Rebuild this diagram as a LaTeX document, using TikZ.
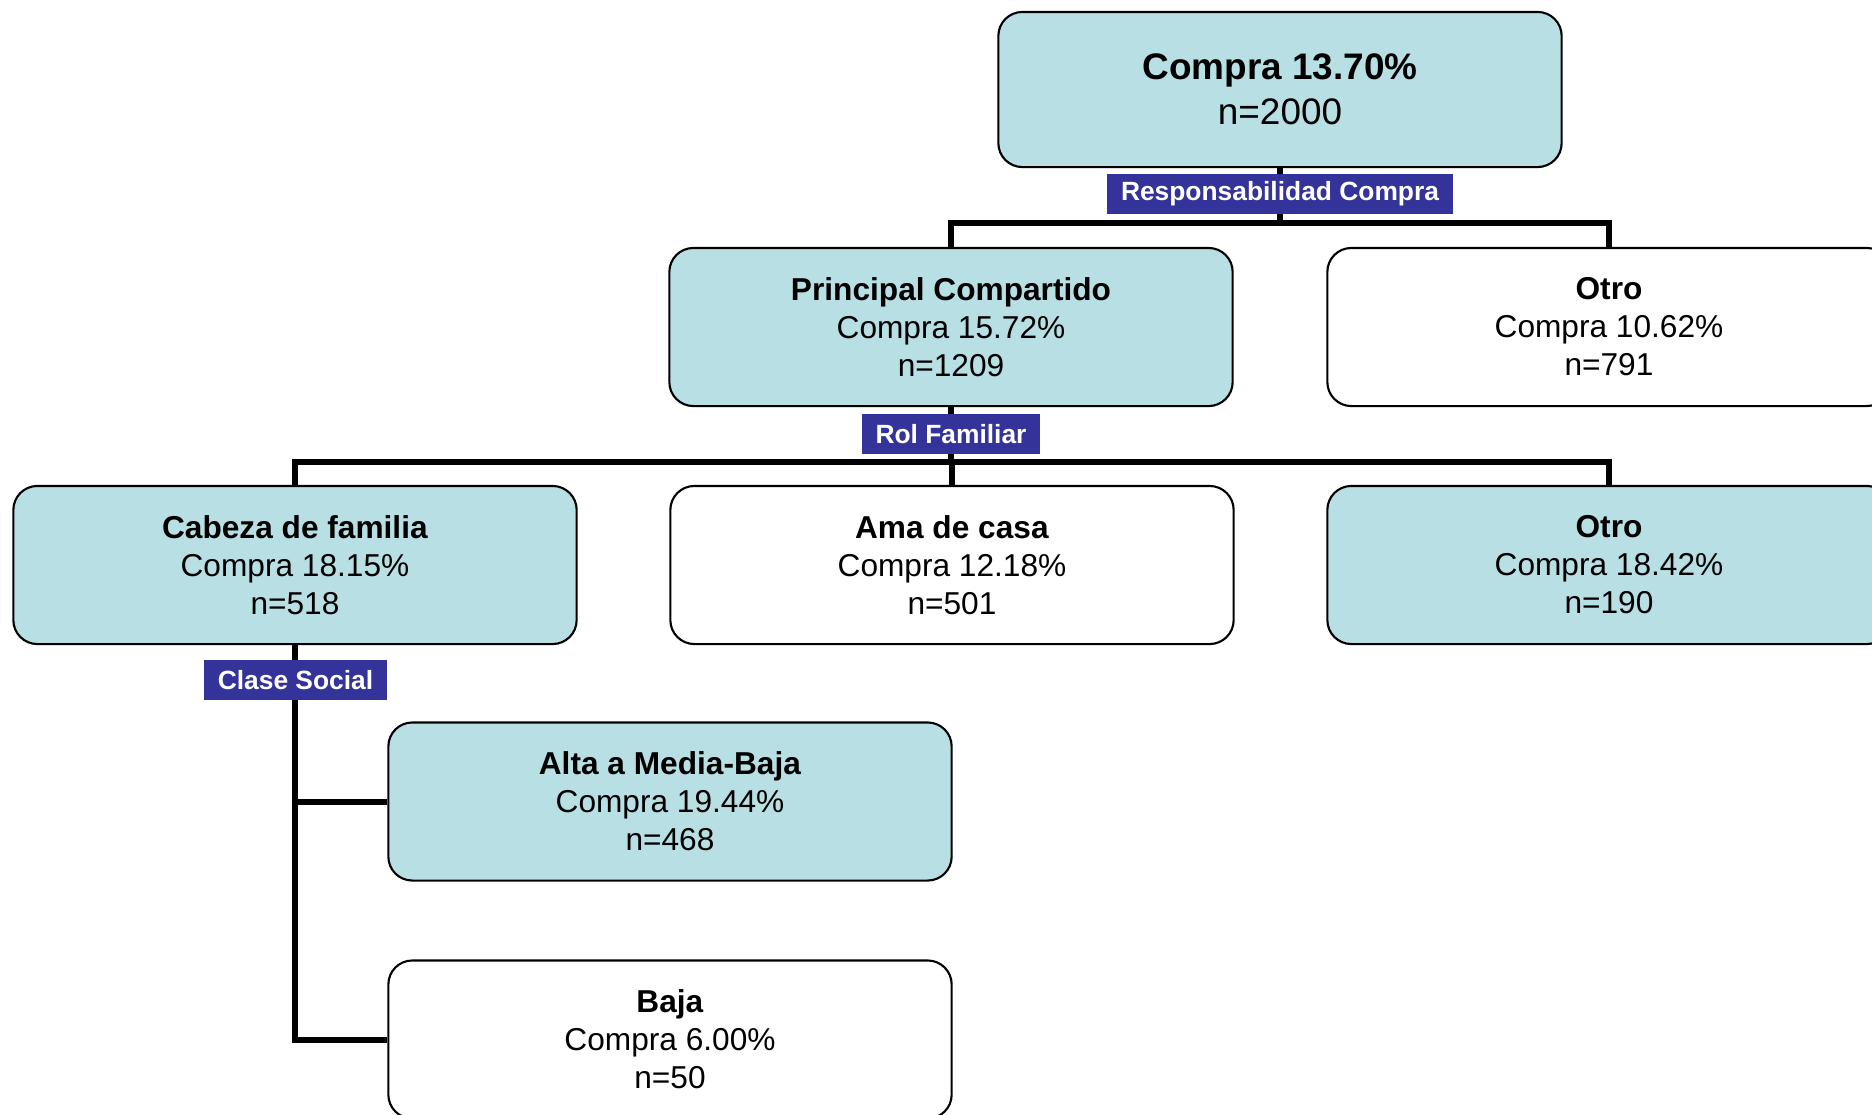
\documentclass[tikz,border=0pt]{standalone}
\usepackage{fontspec}
\setmainfont{Liberation Sans}
\usetikzlibrary{positioning}
\usetikzlibrary{calc}
\definecolor{boxfill}{HTML}{B8DFE3}
\definecolor{tagfill}{HTML}{333399}
\tikzstyle{treebox}=[rectangle,rounded corners=0.24cm,draw=black,line width=0.6pt,minimum width=5.63cm,minimum height=1.58cm,align=center,inner sep=0pt,font=\fontsize{9}{10.8}\selectfont]
\tikzstyle{rootbox}=[treebox,minimum height=1.55cm,font=\fontsize{10.5}{12.9}\selectfont]
\tikzstyle{tag}=[rectangle,fill=tagfill,text=white,inner xsep=0.14cm,inner ysep=0pt,minimum height=0.4cm,font=\fontsize{7.5}{9}\selectfont\bfseries]
\tikzstyle{branch}=[draw,line width=1.7pt]

\begin{document}
\begin{tikzpicture}[x=0.01cm,y=-0.01cm]

  \clip (0,0) rectangle (1872,1114);

  \node[rootbox,fill=boxfill] (root) at (1280,89.5) {\textbf{Compra 13.70\%}\\n=2000};

  \foreach \x/\y/\name/\fillc/\label in {
      951/327/pc/boxfill/{\textbf{Principal Compartido}\\Compra 15.72\%\\n=1209},
      1609/327/otroa/white/{\textbf{Otro}\\Compra 10.62\%\\n=791},
      295/565/cab/boxfill/{\textbf{Cabeza de familia}\\Compra 18.15\%\\n=518},
      952/565/ama/white/{\textbf{Ama de casa}\\Compra 12.18\%\\n=501},
      1609/565/otrob/boxfill/{\textbf{Otro}\\Compra 18.42\%\\n=190},
      670/801.5/alta/boxfill/{\textbf{Alta a Media-Baja}\\Compra 19.44\%\\n=468},
      670/1039.5/baja/white/{\textbf{Baja}\\Compra 6.00\%\\n=50}}
        \node[treebox,fill=\fillc] (\name) at (\x,\y) {\label};

  \foreach \dest in {pc,otroa}
        \draw[branch] (root.south) -- ++(0,55) -| (\dest.north);
  \foreach \dest in {cab,ama,otrob}
        \draw[branch] (pc.south) -- ++(0,55) -| (\dest.north);
  \foreach \dest in {alta,baja}
        \draw[branch] (cab.south) |- (\dest.west);

  \node[tag] (resp) at (1280,194) {Responsabilidad Compra};
  \node[tag] (rol) at (951,434) {Rol Familiar};
  \node[tag] (clase) at (295.5,680) {Clase Social};

\end{tikzpicture}
\end{document}
